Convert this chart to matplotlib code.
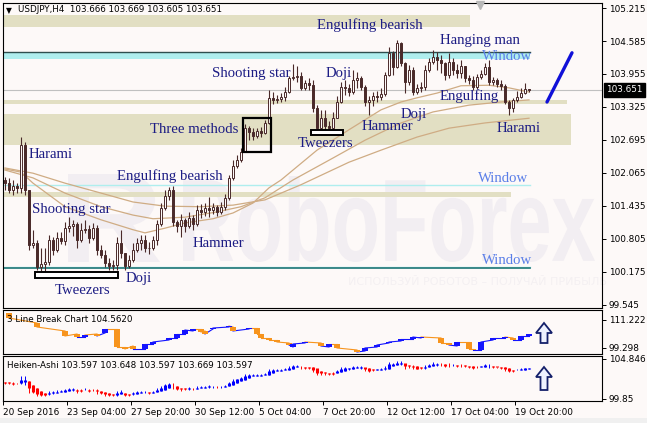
import numpy as np
import matplotlib
matplotlib.use("Agg")
import matplotlib.pyplot as plt
from matplotlib.patches import Rectangle, Polygon, PathPatch
from matplotlib.textpath import TextPath
from matplotlib.font_manager import FontProperties
from matplotlib.transforms import Affine2D

plt.rcParams['font.family'] = 'DejaVu Sans'

W, H = 647, 423
BG = '#fdf9f8'
DARK = '#4a2a2a'
NAVY = '#1c1c84'
WINDOW = '#5a7ee8'
BEIGE = '#e2dfc3'
CYAN = '#afeeee'
TAN = '#cfac84'
WM = '#f2eef2'

# USDJPY H4 candles (open of each bar = previous close)
first_open = 101.93
close = [101.87, 101.74, 101.82, 101.78, 102.60, 101.74, 100.69, 100.73, 100.27, 100.33,
         100.37, 100.79, 100.60, 100.82, 100.77, 101.01, 101.05, 101.09, 100.79, 100.98,
         100.99, 100.82, 101.01, 100.60, 100.50, 100.35, 100.29, 100.31, 100.73, 100.54,
         100.29, 100.40, 100.60, 100.73, 100.79, 100.63, 100.63, 100.79, 101.09, 101.40,
         101.63, 101.74, 101.13, 101.05, 101.17, 101.05, 101.21, 101.09, 101.36, 101.32,
         101.40, 101.36, 101.42, 101.32, 101.42, 101.59, 101.97, 102.20, 102.31, 102.47,
         102.92, 102.85, 102.77, 102.87, 102.83, 103.02, 103.50, 103.46, 103.48, 103.52,
         103.61, 103.88, 103.90, 103.92, 103.69, 103.78, 103.74, 103.31, 102.92, 103.11,
         102.96, 102.92, 103.11, 103.42, 103.71, 103.69, 103.61, 103.84, 103.88, 103.71,
         103.42, 103.46, 103.53, 103.52, 103.57, 103.94, 104.36, 104.09, 104.55, 104.16,
         103.80, 104.03, 103.61, 103.69, 103.71, 104.03, 104.18, 104.28, 104.22, 104.16,
         103.94, 104.18, 104.03, 103.97, 104.11, 103.88, 103.84, 103.71, 103.90, 103.95,
         104.09, 103.80, 103.84, 103.76, 103.73, 103.42, 103.31, 103.46, 103.52, 103.59,
         103.666, 103.651]
high = [101.99, 101.97, 101.93, 101.87, 102.75, 102.66, 101.74, 100.98, 100.79, 100.63,
        100.63, 100.88, 100.84, 100.94, 100.94, 101.13, 101.22, 101.17, 101.13, 101.11,
        101.17, 101.07, 101.11, 101.07, 100.69, 100.60, 100.44, 100.40, 100.84, 100.98,
        100.54, 100.50, 100.73, 100.82, 100.88, 100.88, 100.75, 100.86, 101.17, 101.49,
        101.74, 101.80, 101.82, 101.17, 101.28, 101.21, 101.32, 101.26, 101.45, 101.47,
        101.49, 101.61, 101.49, 101.45, 101.51, 101.66, 102.03, 102.31, 102.41, 102.54,
        103.00, 102.96, 102.92, 102.92, 102.94, 103.08, 103.65, 103.61, 103.55, 103.59,
        103.71, 103.92, 104.15, 104.11, 103.99, 103.84, 103.88, 103.84, 103.36, 103.27,
        103.27, 103.06, 103.23, 103.53, 103.80, 103.84, 103.76, 104.03, 103.99, 103.92,
        103.74, 103.53, 103.61, 103.63, 103.69, 103.99, 104.47, 104.40, 104.60, 104.56,
        104.18, 104.13, 104.09, 103.76, 103.80, 104.13, 104.26, 104.41, 104.38, 104.32,
        104.18, 104.36, 104.26, 104.15, 104.22, 104.11, 103.94, 103.92, 103.95, 104.03,
        104.16, 104.22, 103.90, 103.88, 103.84, 103.76, 103.46, 103.50, 103.63, 103.69,
        103.78, 103.669]
low = [101.74, 101.68, 101.65, 101.68, 101.68, 101.65, 100.60, 100.63, 100.21, 100.17,
       100.17, 100.31, 100.50, 100.56, 100.71, 100.69, 100.94, 100.86, 100.63, 100.75,
       100.92, 100.73, 100.79, 100.50, 100.44, 100.27, 100.21, 100.21, 100.21, 100.44,
       100.21, 100.25, 100.37, 100.56, 100.60, 100.56, 100.52, 100.60, 100.69, 101.05,
       101.36, 101.55, 101.05, 100.94, 100.84, 100.94, 101.01, 100.98, 101.05, 101.21,
       101.24, 101.22, 101.28, 101.24, 101.28, 101.36, 101.55, 101.93, 102.16, 102.27,
       102.47, 102.69, 102.69, 102.73, 102.75, 102.81, 103.00, 103.38, 103.40, 103.42,
       103.44, 103.59, 103.84, 103.80, 103.65, 103.65, 103.65, 103.23, 102.85, 102.87,
       102.87, 102.87, 102.87, 103.11, 103.40, 103.55, 103.53, 103.58, 103.69, 103.65,
       103.34, 103.17, 103.34, 103.42, 103.46, 103.53, 103.92, 103.94, 104.07, 104.11,
       103.59, 103.74, 103.55, 103.57, 103.61, 103.65, 103.99, 104.15, 104.03, 103.97,
       103.84, 103.88, 103.94, 103.88, 103.88, 103.80, 103.76, 103.65, 103.67, 103.86,
       103.94, 103.74, 103.74, 103.71, 103.65, 103.38, 103.17, 103.23, 103.42, 103.50,
       103.57, 103.605]

# moving averages, read at sample bars
ma1_bar = [0, 4, 7, 15, 24, 32, 35, 40, 45, 52, 57, 62, 66, 69, 78, 86, 94, 99, 103, 108, 114, 121, 126, 131]
ma1_val = [102.14, 102.08, 101.87, 101.42, 101.17, 100.98, 100.92, 101.01, 101.11, 101.19, 101.30, 101.49,
           101.78, 101.93, 102.50, 102.89, 103.27, 103.42, 103.50, 103.59, 103.73, 103.74, 103.69, 103.61]
ma2_bar = [0, 7, 15, 24, 32, 37, 45, 53, 59, 65, 72, 82, 90, 99, 107, 116, 124, 131]
ma2_val = [102.12, 101.97, 101.68, 101.42, 101.26, 101.19, 101.22, 101.32, 101.42, 101.59, 101.93, 102.35,
           102.69, 103.02, 103.23, 103.36, 103.42, 103.46]
ma3_bar = [0, 7, 15, 24, 32, 40, 49, 57, 65, 74, 86, 94, 103, 111, 120, 131]
ma3_val = [102.16, 102.06, 101.87, 101.68, 101.51, 101.43, 101.42, 101.45, 101.55, 101.84, 102.27, 102.50,
           102.75, 102.92, 103.02, 103.11]

# 3 Line Break blocks
lb_bar = [1, 8, 15, 18, 20, 23, 25, 28, 30, 32, 35, 37, 41, 43, 45, 47, 49, 50, 52, 56,
          57, 61, 63, 64, 66, 68, 71, 72, 75, 79, 81, 83, 88, 90, 93, 96, 99, 102, 104, 109,
          111, 113, 116, 117, 119, 122, 125, 127, 129, 131]
lb_top = [114.20, 109.94, 106.54, 105.26, 104.83, 105.26, 107.39, 107.39, 99.72, 100.15,
          101.00, 101.85, 103.56, 105.26, 106.96, 107.39, 107.39, 106.54, 107.81, 108.67,
          108.24, 107.81, 107.81, 105.26, 103.56, 102.70, 101.43, 101.00, 101.85, 101.43,
          101.00, 101.00, 98.45, 99.30, 100.57, 101.85, 103.13, 103.98, 103.98, 103.56,
          101.43, 101.85, 101.85, 98.87, 101.85, 103.56, 103.98, 103.56, 104.41, 105.26]
lb_bot = [112.07, 108.24, 104.41, 103.98, 103.98, 104.41, 105.69, 99.72, 98.87, 98.87,
          98.87, 101.00, 102.70, 103.56, 105.26, 106.54, 106.11, 105.26, 107.39, 108.24,
          106.54, 107.39, 105.26, 103.56, 102.70, 101.85, 100.57, 99.72, 101.43, 100.15,
          99.72, 99.30, 97.59, 98.02, 99.72, 101.43, 102.28, 103.13, 103.56, 101.43,
          100.57, 100.15, 98.87, 98.45, 98.45, 102.70, 103.56, 102.70, 102.70, 104.41]
lb_up = [0, 0, 0, 0, 1, 0, 1, 0, 0, 0, 1, 1, 1, 1, 1, 1, 0, 0, 1, 1,
         0, 1, 0, 0, 0, 0, 0, 1, 1, 0, 1, 0, 0, 1, 1, 1, 1, 1, 1, 0,
         0, 1, 0, 0, 1, 1, 1, 0, 1, 1]

main_ticks = [105.215, 104.585, 103.955, 103.325, 102.695, 102.065, 101.435, 100.805, 100.175, 99.545]
date_labels = ['20 Sep 2016', '23 Sep 04:00', '27 Sep 20:00', '30 Sep 12:00', '5 Oct 04:00',
               '7 Oct 20:00', '12 Oct 12:00', '17 Oct 04:00', '19 Oct 20:00']

# zones drawn on the chart: (low, high, last bar)
beige_zones = [(104.85, 105.08, 116.25), (103.38, 103.46, 140.5), (102.60, 103.19, 141.5), (101.61, 101.70, 126.5)]
cyan_zones = [(104.24, 104.38, 131.25)]

labels = [("Engulfing bearish", 78, 104.89, NAVY), ("Hanging man", 108.75, 104.60, NAVY),
          ("Window", 119.25, 104.28, WINDOW), ("Shooting star", 51.75, 103.97, NAVY),
          ("Doji", 80.25, 103.97, NAVY), ("Engulfing", 108.75, 103.53, NAVY),
          ("Three methods", 36.25, 102.90, NAVY), ("Hammer", 89.25, 102.96, NAVY),
          ("Doji", 99.0, 103.19, NAVY), ("Harami", 123.0, 102.92, NAVY),
          ("Tweezers", 73.25, 102.62, NAVY), ("Harami", 6.0, 102.41, NAVY),
          ("Engulfing bearish", 28.0, 102.01, NAVY), ("Window", 118.25, 101.95, WINDOW),
          ("Shooting star", 6.75, 101.36, NAVY), ("Hammer", 47.0, 100.71, NAVY),
          ("Window", 119.25, 100.40, WINDOW), ("Doji", 30.25, 100.04, NAVY),
          ("Tweezers", 12.5, 99.81, NAVY)]

n = len(close)
opens = [first_open] + close[:-1]
bars = np.arange(n)


def box(x0, y0, x1, y1):
    return [x0 / W, 1 - y1 / H, (x1 - x0) / W, (y1 - y0) / H]


def pale_text(axis, s, x0, x1, top, base):
    # faint watermark text fitted to a pixel box
    fp = FontProperties(family='Liberation Sans', weight='bold')
    tp = TextPath((0, 0), s, size=100, prop=fp)
    ext = tp.get_extents()
    sx = (x1 - x0) / ext.width
    sy = (base - top) / ext.height
    tr = Affine2D().scale(sx, sy).translate(x0 - ext.x0 * sx, (H - base) - ext.y0 * sy)
    axis.add_artist(PathPatch(tp, facecolor=WM, lw=0, zorder=0.5, transform=tr))


fig = plt.figure(figsize=(W / 100, H / 100), dpi=100, facecolor=BG)
fig.add_artist(Rectangle((0, 0), 1, 5 / H, transform=fig.transFigure, facecolor='#f0f0f0', lw=0))

ax = fig.add_axes(box(3, 3, 602, 308))
lb = fig.add_axes(box(3, 310, 602, 354))
ha = fig.add_axes(box(3, 356, 602, 401))
XL = (-0.5, 149.25)

for a in (ax, lb, ha):
    a.set_facecolor(BG)
    a.set_xlim(*XL)
    for s in a.spines.values():
        s.set_color('black')
        s.set_linewidth(0.8)
    a.yaxis.tick_right()
    a.tick_params(axis='y', direction='out', length=3, pad=2, labelsize=6.4, width=0.7)
    a.tick_params(axis='x', bottom=False, labelbottom=False)

# ---- main panel
ax.set_ylim(99.485, 105.311)

# watermark: logo R + name
pale_text(ax, 'R', 68, 160, 174, 262)
pale_text(ax, 'RoboForex', 183, 595, 176, 262)
ax.text(118, 99.98, 'ИСПОЛЬЗУЙ РОБОТОВ – ПОЛУЧАЙ ПРИБЫЛЬ', fontsize=8, color='#f4f0f2',
        ha='center', va='center', zorder=0.6)

for lo, hi, end in beige_zones:
    ax.add_patch(Rectangle((XL[0], lo), end - XL[0], hi - lo, facecolor=BEIGE, lw=0, zorder=1))
for lo, hi, end in cyan_zones:
    ax.add_patch(Rectangle((XL[0], lo), end - XL[0], hi - lo, facecolor=CYAN, lw=0, zorder=1))
    ax.plot([XL[0], end], [hi, hi], color='#2f4f4f', lw=1.0, zorder=1.2)
ax.plot([XL[0], 131.25], [101.84, 101.84], color=CYAN, lw=1.0, zorder=1.2)
ax.plot([XL[0], 131.25], [100.27, 100.27], color=CYAN, lw=1.0, zorder=1.2)
ax.plot([XL[0], 131.25], [100.245, 100.245], color='#2e8080', lw=1.3, zorder=1.2)

ax.axhline(close[-1], color='#c0c0c0', lw=0.8, zorder=1.5)

for bx, vals in ((ma1_bar, ma1_val), (ma2_bar, ma2_val), (ma3_bar, ma3_val)):
    ax.plot(bx, vals, color=TAN, lw=0.9, zorder=2)

ax.vlines(bars, low, high, color=DARK, lw=0.8, zorder=3)
for i in range(n):
    o, c = opens[i], close[i]
    bull = c >= o
    ax.add_patch(Rectangle((i - 0.32, min(o, c)), 0.64, max(abs(c - o), 0.006),
                           facecolor=BG if bull else DARK, edgecolor=DARK, lw=0.7, zorder=4))

for txt, bx, py, col in labels:
    ax.text(bx, py, txt, fontsize=10.6, color=col, family='Liberation Serif',
            ha='left', va='center', zorder=6)

# pattern boxes
ax.add_patch(Rectangle((59.5, 102.47), 7.0, 0.64, fill=False, edgecolor='black', lw=1.6, zorder=5))
ax.add_patch(Rectangle((7.5, 100.06), 20.75, 0.11, facecolor='white', edgecolor='black', lw=1.4, zorder=5))
ax.add_patch(Rectangle((76.5, 102.79), 8.0, 0.09, facecolor='white', edgecolor='black', lw=1.4, zorder=5))

# trend arrow line and shift marker
ax.plot([135.5, 141.75], [103.42, 104.36], color='#1010d8', lw=2.4, solid_capstyle='round', zorder=6)
ax.plot([118.75], [105.27], marker='v', color='#b8b8b8', ms=6, clip_on=False, zorder=6)

ax.set_yticks(main_ticks)
ax.set_yticklabels(['%.3f' % t for t in main_ticks])

fig.text(6 / W, 1 - 10.5 / H, '▼', fontsize=5.5, color='black', va='center')
fig.text(18 / W, 1 - 10 / H, 'USDJPY,H4  103.666 103.669 103.605 103.651', fontsize=6.3,
         color='black', va='center')
fig.text(606 / W, 1 - 90 / H, '103.651', fontsize=6.4, color='white', va='center',
         bbox=dict(facecolor='black', edgecolor='black', pad=1.6))

# ---- 3 line break panel
lb.set_ylim(96.74, 115.48)
for k in range(len(lb_bar) - 1):
    s_end = lb_top[k] if lb_up[k] else lb_bot[k]
    n_start = lb_bot[k + 1] if lb_up[k + 1] else lb_top[k + 1]
    lb.plot([lb_bar[k], lb_bar[k + 1]], [s_end, n_start],
            color='#1414ff' if lb_up[k + 1] else '#f7941d', lw=0.8, zorder=2)
for bx, tp_, bt, up in zip(lb_bar, lb_top, lb_bot, lb_up):
    lb.add_patch(Rectangle((bx - 0.65, bt), 1.3, max(tp_ - bt, 0.6),
                           facecolor='#1414ff' if up else '#f7941d', lw=0, zorder=3))
lb.set_yticks([99.298, 111.222])
lb.set_yticklabels(['99.298', '111.222'])
lb.text(0.006, 0.78, '3 Line Break Chart 104.5620', transform=lb.transAxes, fontsize=6.3, va='center')

# ---- heiken ashi panel
o_a, h_a, l_a, c_a = map(np.array, (opens, high, low, close))
ha_c = (o_a + h_a + l_a + c_a) / 4
ha_o = np.empty(n)
ha_o[0] = (o_a[0] + c_a[0]) / 2
for i in range(1, n):
    ha_o[i] = (ha_o[i - 1] + ha_c[i - 1]) / 2
ha_h = np.maximum.reduce([h_a, ha_o, ha_c])
ha_l = np.minimum.reduce([l_a, ha_o, ha_c])
cols = np.where(ha_c >= ha_o, '#0000ff', '#ff0000')
ha.set_ylim(99.60, 105.22)
ha.vlines(bars, ha_l, ha_h, colors=cols, lw=0.7, zorder=2)
ha.vlines(bars, np.minimum(ha_o, ha_c), np.maximum(ha_o, ha_c) + 0.02, colors=cols, lw=2.2, zorder=3)
ha.set_yticks([99.85, 104.846])
ha.set_yticklabels(['99.85', '104.846'])
ha.text(0.006, 0.78, 'Heiken-Ashi 103.597 103.648 103.597 103.669 103.597', transform=ha.transAxes,
        fontsize=6.3, va='center')

ha.tick_params(axis='x', bottom=True, labelbottom=True, direction='out', length=3, pad=2,
               labelsize=6.4, width=0.7)
ha.set_xticks([-0.5 + 16 * k for k in range(len(date_labels))])
ha.set_xticklabels(date_labels, ha='left')


# hollow up arrows in the sub panels
def up_arrow(cx, top, bottom):
    pts = [(cx, top), (cx + 8, top + 10), (cx + 3.5, top + 10), (cx + 3.5, bottom),
           (cx - 3.5, bottom), (cx - 3.5, top + 10), (cx - 8, top + 10)]
    fig.add_artist(Polygon([(x / W, 1 - y / H) for x, y in pts], closed=True, transform=fig.transFigure,
                           facecolor='#eef2ff', edgecolor='#14206a', lw=1.3, zorder=10))


up_arrow(544, 323, 343)
up_arrow(544, 367, 390)

fig.savefig('out.png', dpi=100, facecolor=BG)
